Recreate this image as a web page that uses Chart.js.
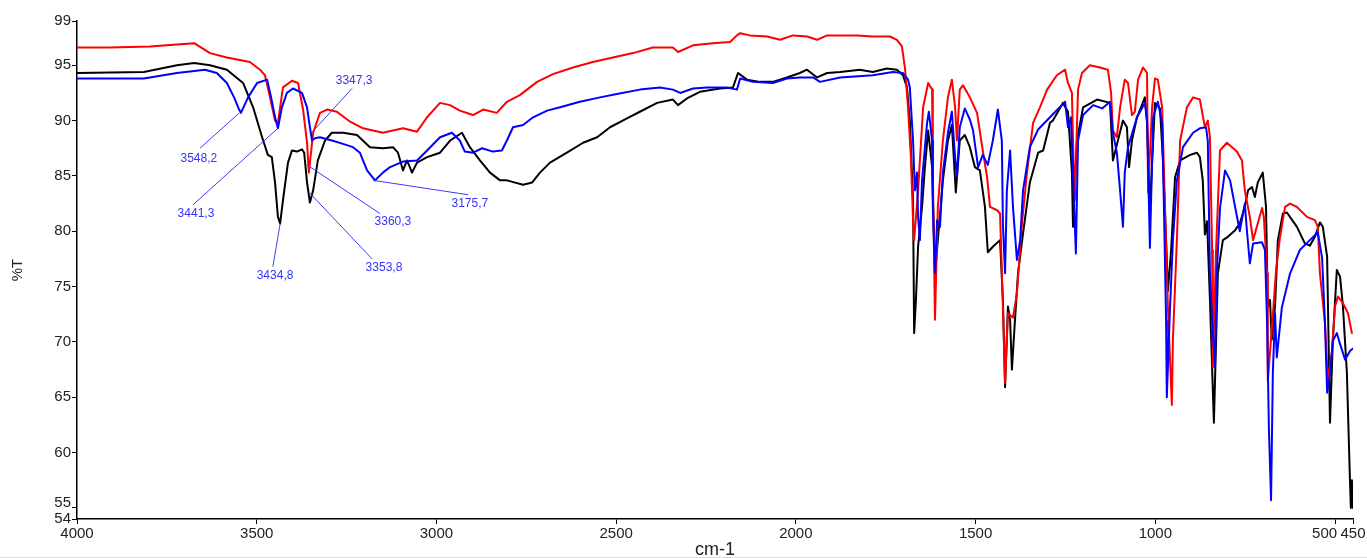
<!DOCTYPE html>
<html>
<head>
<meta charset="utf-8">
<title>IR spectra</title>
<script src="https://cdn.jsdelivr.net/npm/chart.js@4.4.0/dist/chart.umd.min.js"></script>
<style>
  html, body { margin: 0; padding: 0; background: #fff; }
  canvas { display: block; }
</style>
</head>
<body>
<canvas id="irChart" width="1367" height="558"></canvas>
<script>
// axis ticks
const xTicks = [4000, 3500, 3000, 2500, 2000, 1500, 1000, 500, 450];
const yTicks = [99, 95, 90, 85, 80, 75, 70, 65, 60, 55, 54];

// red spectrum (wavenumber cm-1 / %T)
const redWn = [
  4000,3908,3797,3674,3630,3583,3519,3491,3477,3463,
  3449,3441,3427,3402,3385,3371,3360,3355,3343,3324,
  3304,3277,3240,3204,3149,3093,3054,3026,2990,2962,
  2935,2898,2870,2832,2804,2768,2720,2676,2620,2565,
  2509,2453,2398,2342,2328,2286,2231,2183,2164,2155,
  2128,2080,2044,2008,1969,1941,1913,1830,1786,1738,
  1719,1705,1696,1688,1680,1674,1671,1660,1646,1632,
  1621,1619,1613,1605,1591,1577,1566,1557,1552,1544,
  1535,1516,1496,1480,1468,1460,1440,1432,1424,1418,
  1410,1396,1385,1371,1357,1340,1321,1301,1274,1251,
  1243,1232,1229,1224,1215,1204,1182,1154,1132,1123,
  1118,1107,1098,1085,1076,1065,1057,1048,1034,1023,
  1020,1009,1001,993,981,973,965,954,951,940,
  931,912,895,876,862,854,848,842,840,831,
  820,801,773,759,751,737,728,715,703,698,
  689,687,676,664,653,639,625,606,578,556,
  548,542,528,520,509,500,492,478,464,453
];
const redT = [
  96.6,96.6,96.7,97.0,96.1,95.7,95.3,94.6,94.1,92.1,
  90.0,89.8,93.0,93.6,93.4,91.0,88.0,85.3,88.9,90.7,
  91.0,90.8,89.9,89.3,88.9,89.3,89.0,90.3,91.6,91.4,
  90.9,90.5,91.0,90.7,91.7,92.3,93.5,94.2,94.8,95.3,
  95.7,96.1,96.6,96.6,96.2,96.8,97.0,97.1,97.7,97.9,
  97.7,97.6,97.3,97.7,97.6,97.3,97.7,97.7,97.6,97.6,
  97.3,96.7,94.6,91.2,86.7,81.0,79.2,83.7,91.2,93.4,
  92.8,85.3,72.0,82.2,88.2,92.1,93.7,91.2,88.2,92.8,
  93.2,92.1,90.7,87.3,84.9,82.2,81.9,81.6,73.2,66.3,
  72.6,72.2,74.4,80.7,85.3,89.8,91.2,92.8,94.1,94.6,
  93.4,92.5,88.2,82.8,92.8,94.3,95.0,94.8,94.6,92.5,
  89.1,88.5,91.2,93.7,93.4,90.5,90.8,93.7,94.8,94.3,
  83.5,91.2,93.8,93.7,91.2,82.2,73.2,64.3,70.2,79.2,
  88.2,91.2,92.1,91.9,89.4,90.0,88.5,78.3,67.7,78.3,
  87.3,88.0,87.2,86.4,83.7,81.3,79.2,80.7,82.1,81.3,
  76.2,66.5,71.1,76.5,79.5,82.2,82.5,82.2,81.3,81.0,
  80.4,76.2,71.7,66.5,69.0,73.2,74.1,73.5,72.6,70.8
];

// black spectrum
const blackWn = [
  4000,3814,3722,3674,3630,3583,3538,3510,3485,3469,
  3458,3449,3441,3435,3427,3413,3402,3388,3374,3368,
  3360,3352,3343,3330,3310,3291,3260,3221,3185,3149,
  3121,3107,3093,3082,3074,3068,3054,3026,2990,2962,
  2929,2907,2879,2851,2823,2804,2759,2734,2712,2684,
  2637,2592,2553,2517,2470,2434,2386,2342,2328,2303,
  2267,2211,2175,2161,2136,2100,2064,2025,1989,1969,
  1941,1913,1877,1822,1786,1747,1719,1702,1691,1683,
  1674,1671,1666,1660,1649,1641,1632,1621,1613,1605,
  1591,1577,1566,1555,1544,1530,1516,1502,1488,1474,
  1466,1452,1432,1424,1418,1410,1404,1399,1390,1382,
  1368,1349,1326,1312,1293,1285,1257,1243,1232,1229,
  1218,1201,1162,1126,1118,1104,1090,1079,1073,1065,
  1051,1029,1023,1015,1001,987,979,970,965,956,
  945,931,903,884,876,868,862,856,848,837,
  826,812,798,778,765,751,742,731,723,715,
  701,692,687,681,676,667,659,645,634,606,
  584,570,556,542,534,522,514,506,495,486,
  478,467,459,456,453,450
];
const blackT = [
  94.3,94.4,95.0,95.2,95.0,94.6,93.4,91.2,88.5,86.9,
  86.7,84.4,81.3,80.7,82.8,86.2,87.3,87.2,87.4,87.1,
  84.4,82.6,83.7,86.4,88.2,88.9,88.9,88.7,87.6,87.5,
  87.6,87.1,85.5,86.4,85.8,85.3,86.2,86.7,87.1,88.2,
  88.9,87.6,86.4,85.3,84.6,84.6,84.2,84.4,85.3,86.2,
  87.1,88.0,88.5,89.4,90.2,90.8,91.6,91.9,91.4,92.0,
  92.6,92.9,93.0,94.3,93.7,93.5,93.5,93.9,94.3,94.6,
  93.9,94.3,94.4,94.6,94.4,94.7,94.6,94.1,93.0,90.0,
  82.8,70.8,73.8,78.6,82.2,85.8,89.1,85.8,76.2,79.2,
  84.6,88.2,89.6,83.5,88.2,88.7,87.6,85.8,85.5,82.2,
  78.1,78.6,79.2,73.8,65.9,73.2,72.0,67.5,72.2,76.2,
  79.8,84.4,87.1,87.3,89.8,90.0,91.6,90.8,85.3,80.4,
  88.2,91.2,91.9,91.6,86.4,88.2,90.0,89.4,85.8,88.2,
  90.3,92.1,89.8,82.0,91.6,91.1,86.6,79.2,74.6,78.3,
  84.9,86.4,86.9,87.1,86.7,84.6,79.7,80.9,73.8,62.7,
  76.2,79.2,79.5,80.1,80.7,82.2,83.7,84.0,83.1,84.4,
  85.3,82.2,73.2,73.8,70.2,73.2,79.2,81.6,81.7,80.4,
  78.9,78.7,79.5,80.8,80.4,77.7,62.7,70.2,76.5,75.9,
  73.2,67.2,58.1,55.0,57.5,55.0
];

// blue spectrum
const blueWn = [
  4000,3814,3722,3644,3611,3583,3563,3549,3544,3524,
  3499,3471,3460,3449,3441,3430,3416,3399,3374,3360,
  3352,3346,3338,3324,3291,3260,3232,3213,3193,3171,
  3149,3129,3093,3054,3026,2990,2957,2935,2921,2898,
  2873,2843,2818,2804,2787,2759,2731,2692,2656,2601,
  2545,2498,2434,2378,2342,2322,2286,2247,2192,2164,
  2155,2119,2064,2025,1989,1952,1933,1877,1786,1730,
  1702,1688,1683,1674,1669,1663,1660,1655,1649,1635,
  1630,1621,1619,1613,1607,1599,1591,1577,1566,1557,
  1552,1544,1530,1516,1507,1493,1480,1466,1452,1438,
  1427,1424,1418,1413,1404,1396,1385,1376,1368,1349,
  1326,1293,1251,1243,1235,1229,1221,1215,1201,1173,
  1148,1126,1118,1107,1098,1090,1085,1076,1051,1029,
  1023,1015,1006,993,981,976,970,968,959,951,
  940,923,895,876,859,854,848,842,834,829,
  820,806,792,778,765,751,745,737,728,703,
  695,689,684,678,673,667,662,648,625,598,
  570,548,536,528,522,514,506,495,486,472,
  458,450
];
const blueT = [
  93.8,93.8,94.3,94.6,94.3,93.4,92.1,91.0,90.7,92.1,
  93.4,93.7,92.1,90.3,89.3,91.2,92.5,92.9,92.5,91.2,
  89.4,88.2,88.4,88.5,88.2,87.9,87.6,87.1,85.5,84.6,
  85.3,85.8,86.3,86.4,87.3,88.5,88.9,88.2,87.2,87.1,
  87.5,87.2,87.3,88.2,89.4,89.6,90.3,90.9,91.2,91.7,
  92.1,92.4,92.8,93.0,92.8,92.5,92.9,93.0,93.0,92.8,
  93.8,93.5,93.4,93.8,93.9,93.9,93.5,93.9,94.1,94.4,
  94.3,93.7,93.0,88.2,83.7,85.3,81.3,79.2,84.6,89.8,
  90.8,88.2,82.2,76.2,81.0,80.4,85.3,88.9,90.8,86.7,
  84.9,89.4,91.1,90.1,89.1,85.8,86.9,86.0,88.2,91.0,
  88.2,80.6,76.2,83.7,87.3,82.2,77.4,79.2,83.7,87.6,
  89.2,90.3,91.7,89.4,90.3,85.3,78.0,88.2,90.5,91.4,
  91.1,91.7,88.9,87.1,83.7,80.4,85.3,87.6,90.3,91.6,
  90.0,78.5,90.3,91.7,89.8,82.2,71.9,65.0,73.2,79.2,
  84.6,87.6,88.9,89.3,89.4,88.2,76.2,72.1,67.7,76.2,
  82.1,85.5,84.6,82.2,80.0,82.5,80.0,77.1,78.9,79.0,
  78.3,71.7,62.2,55.7,67.2,72.6,68.6,73.1,76.2,78.3,
  79.2,79.9,77.6,71.7,65.4,67.1,70.1,70.8,69.8,68.4,
  69.2,69.4
];

// peak labels: peak point, end of leader line, text centre
const peakText = ['3548,2', '3441,3', '3434,8', '3347,3', '3360,3', '3353,8', '3175,7'];
const peakWn = [3548.2, 3441.3, 3434.8, 3347.3, 3360.3, 3353.8, 3175.7];
const peakT = [90.7, 89.3, 80.7, 88.9, 86.0, 83.5, 84.6];
const leaderWn = [3658, 3677, 3455, 3235, 3157, 3179, 2912];
const leaderT = [87.5, 82.4, 76.8, 92.9, 81.6, 77.5, 83.3];
const textWn = [3661, 3669, 3449, 3229, 3121, 3146, 2907];
const textT = [86.6, 81.6, 76.0, 93.6, 80.9, 76.7, 82.5];

const FONT = '"Liberation Sans", Arial, sans-serif';

function toPoints(wn, t) {
    return wn.map((w, i) => ({ x: w, y: t[i] }));
}

// white page and the thin grey line along the bottom
const pageBackground = {
    id: 'pageBackground',
    beforeDraw(chart) {
        const ctx = chart.ctx;
        ctx.save();
        ctx.fillStyle = '#fff';
        ctx.fillRect(0, 0, chart.width, chart.height);
        ctx.strokeStyle = '#dcdcdc';
        ctx.lineWidth = 1;
        ctx.beginPath();
        ctx.moveTo(0, chart.height - 0.5);
        ctx.lineTo(chart.width, chart.height - 0.5);
        ctx.stroke();
        ctx.restore();
    }
};

// blue peak annotations with leader lines
const peakLabels = {
    id: 'peakLabels',
    afterDatasetsDraw(chart) {
        const { ctx, scales: { x, y } } = chart;
        ctx.save();
        ctx.strokeStyle = '#3c3cff';
        ctx.lineWidth = 1;
        ctx.fillStyle = '#3434ff';
        ctx.font = '12px ' + FONT;
        ctx.textAlign = 'center';
        ctx.textBaseline = 'middle';
        peakText.forEach((label, i) => {
            ctx.beginPath();
            ctx.moveTo(x.getPixelForValue(peakWn[i]), y.getPixelForValue(peakT[i]));
            ctx.lineTo(x.getPixelForValue(leaderWn[i]), y.getPixelForValue(leaderT[i]));
            ctx.stroke();
            ctx.fillText(label, x.getPixelForValue(textWn[i]), y.getPixelForValue(textT[i]));
        });
        ctx.restore();
    }
};

const lineStyle = {
    borderWidth: 2,
    pointRadius: 0,
    tension: 0,
    fill: false,
    borderJoinStyle: 'round',
    borderCapStyle: 'round'
};

new Chart(document.getElementById('irChart'), {
    type: 'line',
    data: {
        datasets: [
            Object.assign({ label: 'blue', data: toPoints(blueWn, blueT), borderColor: '#0000ff' }, lineStyle),
            Object.assign({ label: 'red', data: toPoints(redWn, redT), borderColor: '#ff0000' }, lineStyle),
            Object.assign({ label: 'black', data: toPoints(blackWn, blackT), borderColor: '#000000' }, lineStyle)
        ]
    },
    options: {
        responsive: false,
        animation: false,
        devicePixelRatio: 1,
        layout: { padding: { top: 21, right: 14, left: 0, bottom: 0 } },
        plugins: {
            legend: { display: false },
            tooltip: { enabled: false }
        },
        scales: {
            x: {
                type: 'linear',
                min: 450,
                max: 4000,
                reverse: true,
                afterBuildTicks: s => { s.ticks = xTicks.map(v => ({ value: v })); },
                afterFit: s => { s.height = 39; },
                grid: { display: true, drawOnChartArea: false, drawTicks: true, tickLength: 5, tickColor: '#000', lineWidth: 1 },
                border: { display: true, color: '#000', width: 1.5 },
                ticks: {
                    autoSkip: false,
                    maxRotation: 0,
                    padding: 1,
                    color: '#222',
                    font: { family: FONT, size: 15 },
                    callback: v => (v === 500 ? '500     ' : String(v))
                },
                title: {
                    display: true,
                    text: 'cm-1',
                    color: '#222',
                    font: { family: FONT, size: 18, lineHeight: 1 },
                    padding: { top: 0, bottom: -1 }
                }
            },
            y: {
                type: 'linear',
                min: 54,
                max: 99,
                afterBuildTicks: s => { s.ticks = yTicks.map(v => ({ value: v })); },
                afterFit: s => { s.width = 77; },
                grid: { display: true, drawOnChartArea: false, drawTicks: true, tickLength: 5, tickColor: '#000', lineWidth: 1 },
                border: { display: true, color: '#000', width: 1.5 },
                ticks: {
                    padding: 1,
                    color: '#222',
                    font: ctx => ({ family: FONT, size: 15, lineHeight: ctx.tick && ctx.tick.value === 55 ? 0.67 : 1.2 }),
                    callback: v => (v === 55 ? ['55', ''] : String(v))
                },
                title: {
                    display: true,
                    text: '%T',
                    color: '#222',
                    font: { family: FONT, size: 15, lineHeight: 1 },
                    padding: { top: 10, bottom: 0 }
                }
            }
        }
    },
    plugins: [pageBackground, peakLabels]
});
</script>
</body>
</html>
